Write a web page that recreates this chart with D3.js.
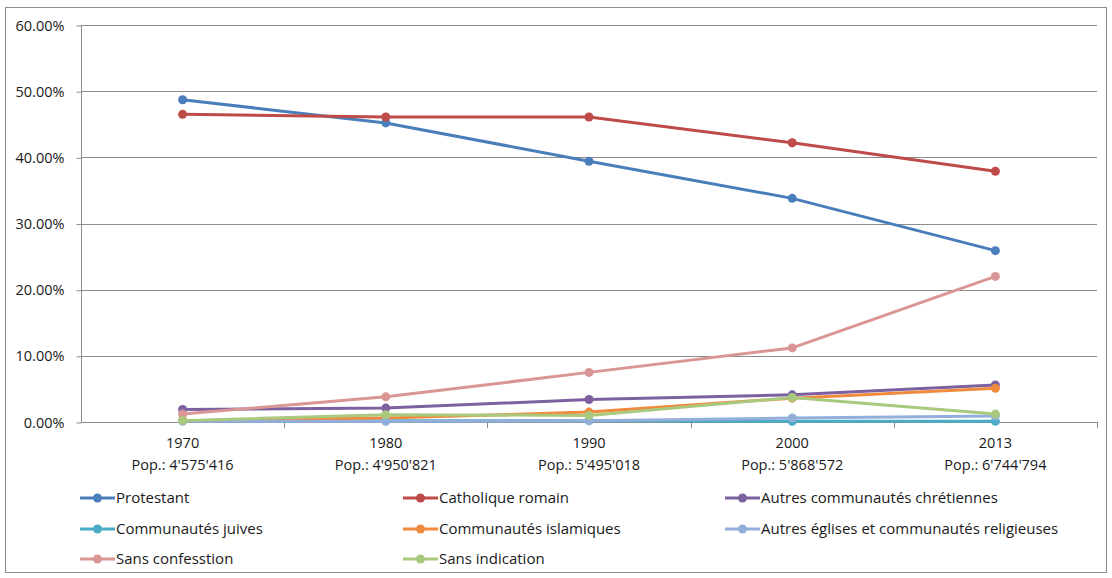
<!DOCTYPE html>
<html><head><meta charset="utf-8">
<script src="https://cdn.jsdelivr.net/npm/d3@7"></script>
<style>body{margin:0;background:#fff}svg{display:block}text{font-family:"Open Sans",sans-serif;fill:#1a1a1a}</style>
</head><body><svg id="c" width="1112" height="578"></svg>
<script>
const years = ["1970","1980","1990","2000","2013"];
const populations = ["4'575'416","4'950'821","5'495'018","5'868'572","6'744'794"];
const yTicks = [0,10,20,30,40,50,60];
const seriesNames = ["Protestant","Catholique romain","Autres communautés chrétiennes","Communautés juives","Communautés islamiques","Autres églises et communautés religieuses","Sans confesstion","Sans indication"];
const protestant = [48.7,45.2,39.4,33.8,25.9];
const catholique = [46.5,46.1,46.1,42.2,37.9];
const autresChretiennes = [1.9,2.1,3.4,4.1,5.6];
const juives = [0.2,0.2,0.2,0.1,0.1];
const islamiques = [0.2,0.6,1.5,3.6,5.1];
const autresEglises = [0.1,0.1,0.2,0.6,0.9];
const sansConfession = [1.2,3.8,7.5,11.2,22.0];
const sansIndication = [0.2,1.1,1.0,3.7,1.2];
const colors = ["#4a7ebb","#be4b48","#7d60a0","#4aacc5","#f08a3c","#93aedb","#d99694","#a9c97e"];
const allValues = [protestant,catholique,autresChretiennes,juives,islamiques,autresEglises,sansConfession,sansIndication];

const svg = d3.select("#c");
svg.append("rect").attr("x",5.5).attr("y",7.5).attr("width",1101).attr("height",565).attr("fill","#fff").attr("stroke","#8c8c8c").attr("stroke-width",1);

const x = d3.scaleBand().domain(years).range([81,1097]).paddingInner(0).paddingOuter(0);
const y = d3.scaleLinear().domain([0,60]).range([422,25]);

svg.append("g").selectAll("line").data(yTicks.filter(d=>d>0)).join("line")
  .attr("x1",81).attr("x2",1097).attr("y1",d=>Math.round(y(d))+0.5).attr("y2",d=>Math.round(y(d))+0.5)
  .attr("stroke","#8c8c8c").attr("stroke-width",1);

const yAxis = d3.axisLeft(y).tickValues(yTicks).tickSize(5).tickFormat(d=>d.toFixed(2)+"%");
const gy = svg.append("g").attr("transform","translate(81.5,0.5)").call(yAxis);
gy.select(".domain").attr("stroke","#8c8c8c").attr("d","M0,"+Math.round(y(60))+"V"+Math.round(y(0)));
gy.selectAll(".tick line").attr("stroke","#8c8c8c");
gy.selectAll(".tick text").attr("x",-17).style("font-size","14.5px").style("font-family","'Open Sans',sans-serif").attr("fill","#1a1a1a");

const xTickPos = years.map((d,i)=>x(d)).concat([1097]);
const gx = svg.append("g");
gx.append("line").attr("x1",81).attr("x2",1097).attr("y1",422.5).attr("y2",422.5).attr("stroke","#8c8c8c");
gx.selectAll("line.t").data(xTickPos.slice(1)).join("line").attr("class","t")
  .attr("x1",d=>Math.round(d)+0.5).attr("x2",d=>Math.round(d)+0.5).attr("y1",422).attr("y2",428).attr("stroke","#8c8c8c");
const xl = gx.selectAll("g.lab").data(years).join("g").attr("class","lab")
  .attr("transform",d=>`translate(${x(d)+x.bandwidth()/2},0)`);
xl.append("text").attr("y",448).attr("text-anchor","middle").style("font-size","14.5px").text(d=>d);
xl.append("text").attr("y",470).attr("text-anchor","middle").style("font-size","14.5px").text((d,i)=>"Pop.: "+populations[i]);

const line = d3.line().x((d,i)=>x(years[i])+x.bandwidth()/2).y(d=>y(d));
allValues.forEach((vals,k)=>{
  const g = svg.append("g");
  g.append("path").datum(vals).attr("d",line).attr("fill","none").attr("stroke",colors[k]).attr("stroke-width",3).attr("stroke-linejoin","round");
  g.selectAll("circle").data(vals).join("circle")
    .attr("cx",(d,i)=>x(years[i])+x.bandwidth()/2).attr("cy",d=>y(d)).attr("r",4.5).attr("fill",colors[k]);
});

const colX = [80,403,725];
const rowY = [498,529,559];
seriesNames.forEach((n,k)=>{
  const cx = colX[k%3], cy = rowY[Math.floor(k/3)];
  const g = svg.append("g");
  g.append("line").attr("x1",cx).attr("x2",cx+35).attr("y1",cy).attr("y2",cy).attr("stroke",colors[k]).attr("stroke-width",3);
  g.append("circle").attr("cx",cx+17.5).attr("cy",cy).attr("r",4.5).attr("fill",colors[k]);
  g.append("text").attr("x",cx+36).attr("y",cy+5).style("font-size","15px").text(n);
});
</script></body></html>
